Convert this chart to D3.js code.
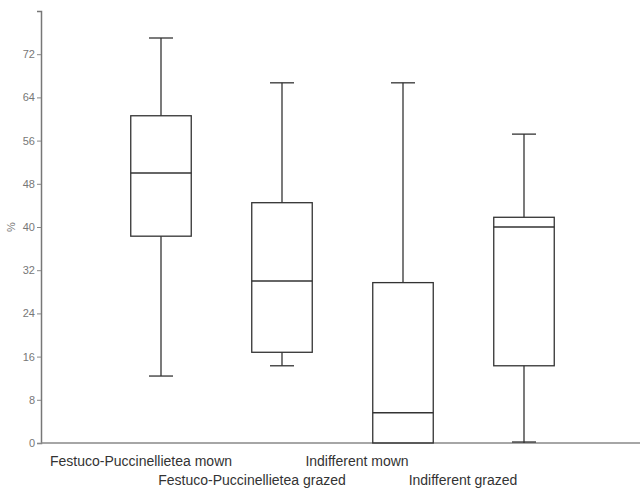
<!DOCTYPE html>
<html>
<head>
<meta charset="utf-8">
<script src="https://cdn.jsdelivr.net/npm/d3@7"></script>
<style>
  body { margin: 0; background: #fff; }
  text { font-family: "Liberation Sans", Arial, sans-serif; }
</style>
</head>
<body>
<svg width="640" height="488"></svg>
<script>
// data
const categories = ['Festuco-Puccinellietea mown', 'Festuco-Puccinellietea grazed', 'Indifferent mown', 'Indifferent grazed'];
const mins = [12.4, 14.3, 0, 0];
const q1s = [38.3, 16.8, 0, 14.3];
const medians = [50.0, 30.0, 5.6, 40.0];
const q3s = [60.6, 44.5, 29.7, 41.8];
const maxs = [75.0, 66.7, 66.7, 57.2];
const yTicks = [0, 8, 16, 24, 32, 40, 48, 56, 64, 72];

const data = categories.map((c, i) => ({
  name: c, min: mins[i], q1: q1s[i], median: medians[i], q3: q3s[i], max: maxs[i]
}));

const svg = d3.select('svg');

// scales
const y = d3.scaleLinear().domain([0, 80]).range([443, 11]);
const x = d3.scaleBand()
  .domain(categories)
  .range([100.5, 584.5])
  .paddingInner(0.5)
  .paddingOuter(0.25);

const bw = x.bandwidth();
const cx = (d) => x(d.name) + bw / 2;
const capW = 24;

// y axis
const yAxis = svg.append('g')
  .attr('transform', 'translate(41,0)')
  .call(d3.axisLeft(y).tickValues(yTicks).tickSize(4).tickPadding(2));
yAxis.select('.domain').attr('stroke', '#777').attr('stroke-width', 1.5);
yAxis.selectAll('.tick line').attr('stroke', '#888');
yAxis.selectAll('.tick text')
  .attr('fill', '#777')
  .style('font-size', '11px');

// x axis line
svg.append('line')
  .attr('x1', 41).attr('x2', 640)
  .attr('y1', y(0)).attr('y2', y(0))
  .attr('stroke', '#888')
  .attr('stroke-width', 1.5);

// y label
svg.append('text')
  .attr('transform', `translate(15,${y(40)}) rotate(-90)`)
  .attr('text-anchor', 'middle')
  .attr('fill', '#777')
  .style('font-size', '11px')
  .text('%');

// boxes
const boxes = svg.selectAll('g.box').data(data).enter()
  .append('g')
  .attr('class', 'box')
  .attr('stroke', '#333')
  .attr('stroke-width', 1.3)
  .attr('fill', 'none');

// whiskers
boxes.append('line')
  .attr('x1', cx).attr('x2', cx)
  .attr('y1', (d) => y(d.max)).attr('y2', (d) => y(d.q3));
boxes.append('line')
  .attr('x1', cx).attr('x2', cx)
  .attr('y1', (d) => y(d.q1)).attr('y2', (d) => y(d.min));
boxes.append('line')
  .attr('x1', (d) => cx(d) - capW / 2).attr('x2', (d) => cx(d) + capW / 2)
  .attr('y1', (d) => y(d.max)).attr('y2', (d) => y(d.max));
boxes.filter((d) => d.min > 0).append('line')
  .attr('x1', (d) => cx(d) - capW / 2).attr('x2', (d) => cx(d) + capW / 2)
  .attr('y1', (d) => y(d.min)).attr('y2', (d) => y(d.min));
boxes.filter((d) => d.min === 0 && d.q1 > 0).append('line')
  .attr('x1', (d) => cx(d) - capW / 2).attr('x2', (d) => cx(d) + capW / 2)
  .attr('y1', (d) => y(d.min) - 1).attr('y2', (d) => y(d.min) - 1);

// box
boxes.append('rect')
  .attr('x', (d) => x(d.name))
  .attr('width', bw)
  .attr('y', (d) => y(d.q3))
  .attr('height', (d) => y(d.q1) - y(d.q3));

// median
boxes.append('line')
  .attr('x1', (d) => x(d.name)).attr('x2', (d) => x(d.name) + bw)
  .attr('y1', (d) => y(d.median)).attr('y2', (d) => y(d.median));

// category labels, staggered on two rows like the original
const labelShift = [-20, -30, -46, -61];
svg.selectAll('text.cat').data(data).enter()
  .append('text')
  .attr('class', 'cat')
  .attr('x', (d, i) => cx(d) + labelShift[i])
  .attr('y', (d, i) => (i % 2 === 0 ? 466 : 485))
  .attr('text-anchor', 'middle')
  .attr('fill', '#333')
  .style('font-size', '14px')
  .text((d) => d.name);
</script>
</body>
</html>
